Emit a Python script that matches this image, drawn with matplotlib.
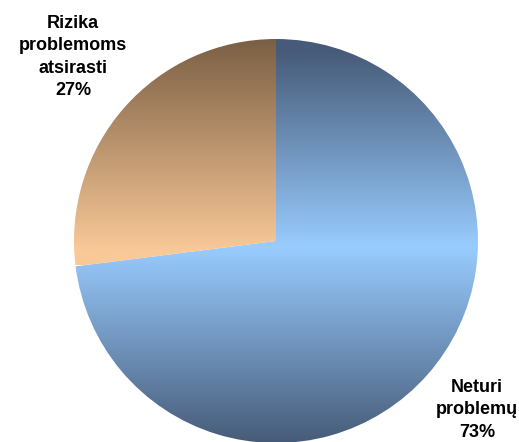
import numpy as np
import matplotlib.pyplot as plt
from matplotlib.colors import to_rgb

labels = ["Neturi\nproblemų", "Rizika\nproblemoms\natsirasti"]
shares = [73, 27]

# gradient end colours for each slice (dark edge, light centre)
blue_dark, blue_light = "#475b78", "#99ccff"
tan_dark, tan_light = "#7a5e44", "#f9c998"

W, H = 519, 442
cx, cy, R = 276, 241, 202

fig = plt.figure(figsize=(W / 100, H / 100), dpi=100)
ax = fig.add_axes([0, 0, 1, 1])

wedges, _ = ax.pie(shares, startangle=90, counterclock=False, radius=1,
                   wedgeprops=dict(facecolor="none", edgecolor="none"))
ax.axis("off")


def ramp(c0, c1, t):
    c0, c1 = np.array(to_rgb(c0)), np.array(to_rgb(c1))
    return c0 + (c1 - c0) * t[:, None]


# blue slice: dark at top and bottom, light through the middle
ys = np.linspace(1, -1, 400)
t = np.clip(np.abs(ys + 0.03) / 0.97, 0, 1)
img = ramp(blue_light, blue_dark, t)[:, None, :]
im = ax.imshow(img, extent=[-1, 1, -1, 1], aspect="auto", zorder=1)
im.set_clip_path(wedges[0])

# tan slice: dark at top fading to light at the bottom
ys = np.linspace(1, -0.12, 300)
t = np.clip((1 - ys) / 1.05, 0, 1)
img = ramp(tan_dark, tan_light, t)[:, None, :]
im = ax.imshow(img, extent=[-1, 0, -0.12, 1], aspect="auto", zorder=1)
im.set_clip_path(wedges[1])

ax.set_aspect("auto")
ax.set_xlim(-cx / R, (W - cx) / R)
ax.set_ylim(-(H - cy) / R, cy / R)


def px(x, y):
    return (x - cx) / R, (cy - y) / R


kw = dict(ha="center", va="center", fontsize=13, fontweight="bold",
          family=["Liberation Sans", "DejaVu Sans"],
          linespacing=1.42, color="black", zorder=3)
ax.text(*px(73, 57), f"{labels[1]}\n{shares[1]}%", **kw)
ax.text(*px(477, 410), f"{labels[0]}\n{shares[0]}%", **kw)

fig.savefig("out.png", dpi=100)
